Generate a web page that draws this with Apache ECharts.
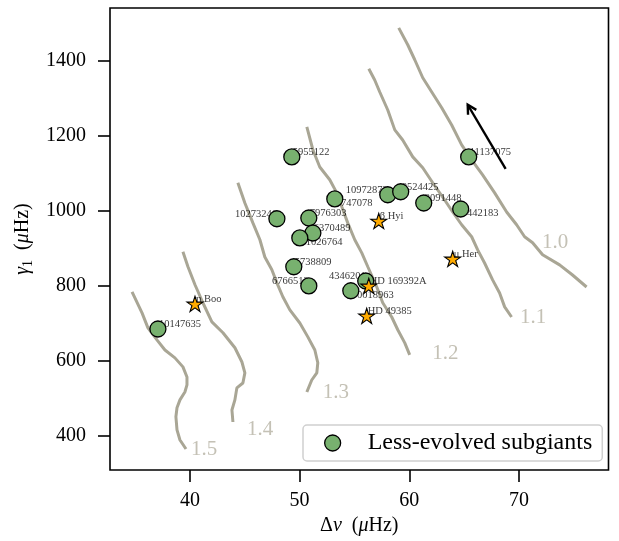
<!DOCTYPE html>
<html>
<head>
<meta charset="utf-8">
<script src="https://cdn.jsdelivr.net/npm/echarts@6/dist/echarts.min.js"></script>
<style>
  html, body { margin: 0; padding: 0; background: #ffffff; }
  #chart { width: 619px; height: 541px; }
</style>
</head>
<body>
<div id="chart"></div>
<script>
// ---- Less-evolved subgiants (KIC), Δν and γ1 in μHz ----
const subgiantNames  = ['10147635', '5955122', '11137075', '10972873', '8524425', '7747078', '2091448', '6442183',
                        '10273246', '7976303', '6370489', '11026764', '5738809', '6766513', '4346201', '10018963'];
const subgiantDnu    = [37.08, 49.29, 65.42, 58.04, 59.22, 53.21, 61.32, 64.69,
                        47.93, 50.84, 51.21, 50.02, 49.47, 50.84, 56.03, 54.67];
const subgiantGamma  = [685, 1144, 1144, 1043, 1051, 1032, 1021, 1005,
                        979, 981, 941, 928, 851, 800, 813, 787];
// where each name sits: r = right/above, l = left/above, b = right/below
const subgiantLabelSide = ['r', 'r', 'r', 'l', 'r', 'b', 'r', 'b',
                           'l', 'r', 'r', 'b', 'r', 'l', 'l', 'b'];

// ---- Reference stars ----
const starNames = ['β Hyi', 'HD 169392A', 'HD 49385', 'μ Her', 'η Boo'];
const starDnu   = [57.22, 56.31, 56.12, 63.96, 40.46];
const starGamma = [973, 800, 720, 872, 752];
const starLabelSide = ['r', 'r', 'r', 'r', 'r'];

// ---- Model tracks, labelled by mass ----
const track10Dnu   = [59.04, 59.86, 60.50, 61.23, 62.05, 62.96, 63.87, 64.78, 65.69, 66.69, 67.79, 68.88, 69.79, 70.52, 71.25, 72.16, 73.71, 74.89, 76.17];
const track10Gamma = [1488, 1443, 1403, 1355, 1317, 1275, 1229, 1176, 1136, 1096, 1048, 997, 963, 931, 915, 883, 856, 829, 797];
const track11Dnu   = [56.31, 56.85, 57.31, 58.04, 58.68, 59.40, 60.32, 61.23, 62.14, 63.23, 63.96, 64.78, 65.69, 66.24, 66.87, 67.60, 68.24, 68.70, 69.33];
const track11Gamma = [1379, 1349, 1317, 1269, 1216, 1189, 1144, 1115, 1075, 1029, 997, 963, 931, 896, 861, 816, 781, 744, 717];
const track12Dnu   = [50.66, 51.21, 51.84, 52.75, 53.39, 53.85, 54.39, 55.03, 55.67, 56.22, 57.04, 57.58, 58.40, 58.95, 59.59, 60.04];
const track12Gamma = [1224, 1163, 1117, 1083, 1048, 1011, 968, 923, 888, 851, 797, 755, 717, 683, 648, 616];
const track13Dnu   = [44.37, 45.01, 45.74, 46.38, 46.83, 47.47, 47.93, 48.47, 49.11, 50.02, 50.75, 51.39, 51.66, 51.57, 51.11, 50.66];
const track13Gamma = [1075, 1021, 968, 923, 877, 843, 808, 771, 736, 701, 664, 629, 595, 568, 549, 517];
const track14Dnu   = [39.36, 39.82, 40.46, 41.18, 42.00, 43.01, 44.10, 44.74, 45.01, 44.83, 44.28, 44.10, 43.83, 43.92];
const track14Gamma = [891, 851, 803, 755, 704, 675, 635, 597, 568, 541, 528, 496, 469, 437];
const track15Dnu   = [34.72, 35.63, 36.17, 36.99, 37.72, 38.63, 39.36, 39.73, 39.73, 39.54, 39.09, 38.82, 38.72, 38.82, 39.09, 39.64];
const track15Gamma = [784, 728, 688, 656, 629, 608, 584, 557, 536, 517, 496, 475, 451, 416, 389, 365];

const trackMasses     = ['1.0', '1.1', '1.2', '1.3', '1.4', '1.5'];
const trackLabelDnu   = [73.3, 71.3, 63.3, 53.3, 46.4, 41.3];
const trackLabelGamma = [915, 715, 619, 515, 416, 363];

// ---- Evolution arrow (tail -> head) ----
const arrowTail = [68.79, 1112];
const arrowHead = [65.33, 1283];

// ---- Axes ----
const xRange = [32.71, 78.17];
const yRange = [309, 1541];
const xTickValues = [40, 50, 60, 70];
const yTickValues = [400, 600, 800, 1000, 1200, 1400];

const FONT = "'Liberation Serif', 'DejaVu Serif', serif";
const TRACK_COLOR = '#a9a695';
const TRACK_TEXT = '#b5b1a2';

function zip(xs, ys) { return xs.map((x, i) => [x, ys[i]]); }

function starSymbol() {
  const pts = [];
  for (let i = 0; i < 10; i++) {
    const r = i % 2 === 0 ? 50 : 19.1;
    const a = -Math.PI / 2 + i * Math.PI / 5;
    pts.push((50 + r * Math.cos(a)).toFixed(2) + ',' + (50 + r * Math.sin(a)).toFixed(2));
  }
  return 'path://M' + pts.join('L') + 'Z';
}

// Invisible anchors that carry the name tags; drawn beneath the markers.
function nameSeries(xs, ys, texts, sides, z) {
  return {
    type: 'scatter', z: z, silent: true, symbolSize: 2,
    itemStyle: { color: 'rgba(0,0,0,0)' },
    label: { show: true, fontFamily: FONT, fontSize: 10.5, lineHeight: 10, color: '#000' },
    emphasis: { disabled: true },
    data: xs.map((x, i) => {
      const s = sides[i];
      return {
        value: [x, ys[i]],
        label: {
          formatter: texts[i],
          position: [1, 1],
          align: s === 'l' ? 'right' : 'left',
          verticalAlign: s === 'b' ? 'top' : 'bottom',
          offset: s === 'b' ? [1, -1] : [s === 'l' ? 0 : 1, 0]
        }
      };
    })
  };
}

const trackSets = [
  [track10Dnu, track10Gamma], [track11Dnu, track11Gamma], [track12Dnu, track12Gamma],
  [track13Dnu, track13Gamma], [track14Dnu, track14Gamma], [track15Dnu, track15Gamma]
];

const series = [];
trackSets.forEach((t, k) => {
  series.push({
    type: 'line', name: 'track ' + trackMasses[k], z: 1, silent: true,
    data: zip(t[0], t[1]), showSymbol: false, symbol: 'none',
    lineStyle: { color: TRACK_COLOR, width: 3 },
    emphasis: { disabled: true }
  });
});

series.push({
  type: 'scatter', z: 2, silent: true, symbolSize: 0,
  data: trackLabelDnu.map((x, i) => ({ value: [x, trackLabelGamma[i]], name: trackMasses[i] })),
  label: {
    show: true, position: 'inside', formatter: p => p.name,
    fontFamily: FONT, fontSize: 21, color: TRACK_TEXT, align: 'center', verticalAlign: 'middle'
  },
  emphasis: { disabled: true }
});

series.push(nameSeries(subgiantDnu, subgiantGamma, subgiantNames, subgiantLabelSide, 3));
series.push(nameSeries(starDnu, starGamma, starNames, starLabelSide, 3));

series.push({
  type: 'scatter', name: 'Less-evolved subgiants', z: 4,
  data: zip(subgiantDnu, subgiantGamma),
  symbol: 'circle', symbolSize: 16,
  itemStyle: { color: '#78b16f', borderColor: '#000', borderWidth: 1.3, opacity: 1 },
  emphasis: { disabled: true }
});

series.push({
  type: 'scatter', name: 'stars', z: 5,
  data: zip(starDnu, starGamma),
  symbol: starSymbol(), symbolSize: 16, symbolKeepAspect: true,
  itemStyle: { color: '#ffab00', borderColor: '#000', borderWidth: 1.1, opacity: 1 },
  emphasis: { disabled: true }
});

series.push({
  type: 'custom', z: 6, silent: true,
  data: [[arrowTail[0], arrowTail[1], arrowHead[0], arrowHead[1]]],
  encode: { x: [0, 2], y: [1, 3] },
  renderItem: (params, api) => {
    const p0 = api.coord([api.value(0), api.value(1)]);
    const p1 = api.coord([api.value(2), api.value(3)]);
    const ang = Math.atan2(p1[1] - p0[1], p1[0] - p0[0]);
    const L = 10, W = 0.5;
    const h1 = [p1[0] - L * Math.cos(ang - W), p1[1] - L * Math.sin(ang - W)];
    const h2 = [p1[0] - L * Math.cos(ang + W), p1[1] - L * Math.sin(ang + W)];
    return {
      type: 'group',
      children: [
        { type: 'line', shape: { x1: p0[0], y1: p0[1], x2: p1[0], y2: p1[1] },
          style: { stroke: '#000', lineWidth: 2.4 } },
        { type: 'polyline', shape: { points: [h1, p1, h2] },
          style: { stroke: '#000', lineWidth: 2.4, fill: null } }
      ]
    };
  }
});

const axisText = { fontFamily: FONT, fontSize: 20, color: '#000', formatter: v => String(v) };

const option = {
  animation: false,
  backgroundColor: '#ffffff',
  grid: {
    left: 110, right: 10.5, top: 8, bottom: 71,
    show: true, borderColor: '#000', borderWidth: 1.6, backgroundColor: '#fff',
    containLabel: false, outerBoundsMode: 'none'
  },
  legend: {
    left: 303, top: 425,
    orient: 'horizontal',
    padding: [6, 10, 6, 21],
    itemWidth: 60, itemHeight: 16,
    backgroundColor: 'rgba(255,255,255,0.85)',
    borderColor: '#d0d0d0', borderWidth: 1.5, borderRadius: 4,
    textStyle: { fontFamily: FONT, fontSize: 24, color: '#000' },
    data: [{ name: 'Less-evolved subgiants', icon: 'circle',
             itemStyle: { color: '#78b16f', borderColor: '#000', borderWidth: 1.3 } }],
    selectedMode: false
  },
  xAxis: {
    type: 'value', min: xRange[0], max: xRange[1],
    splitLine: { show: false },
    axisLine: { show: false },
    axisTick: { show: true, length: 12, inside: false, customValues: xTickValues,
                lineStyle: { color: '#000', width: 1.6 } },
    axisLabel: Object.assign({ margin: 21, customValues: xTickValues }, axisText),
    name: '{r|Δ}{i|ν}  {r|(}{i|μ}{r|Hz)}',
    nameLocation: 'middle', nameGap: 43,
    nameTextStyle: {
      fontFamily: FONT, fontSize: 20, color: '#000',
      rich: {
        r: { fontFamily: FONT, fontSize: 20, color: '#000' },
        i: { fontFamily: FONT, fontSize: 20, color: '#000', fontStyle: 'italic' }
      }
    }
  },
  yAxis: {
    type: 'value', min: yRange[0], max: yRange[1],
    splitLine: { show: false },
    axisLine: { show: false },
    axisTick: { show: true, length: 12, inside: false, customValues: yTickValues,
                lineStyle: { color: '#000', width: 1.6 } },
    axisLabel: Object.assign({ margin: 24, customValues: yTickValues }, axisText),
    name: '{i|γ}{s|1}  {r|(}{i|μ}{r|Hz)}',
    nameLocation: 'middle', nameGap: 72, nameRotate: 90,
    nameTextStyle: {
      fontFamily: FONT, fontSize: 20, color: '#000',
      rich: {
        r: { fontFamily: FONT, fontSize: 20, color: '#000', lineHeight: 24 },
        i: { fontFamily: FONT, fontSize: 20, color: '#000', fontStyle: 'italic', lineHeight: 24 },
        s: { fontFamily: FONT, fontSize: 14, color: '#000', lineHeight: 14, verticalAlign: 'bottom' }
      }
    }
  },
  series: series
};

const chart = echarts.init(document.getElementById('chart'), null, { renderer: 'canvas' });
chart.setOption(option);
</script>
</body>
</html>
